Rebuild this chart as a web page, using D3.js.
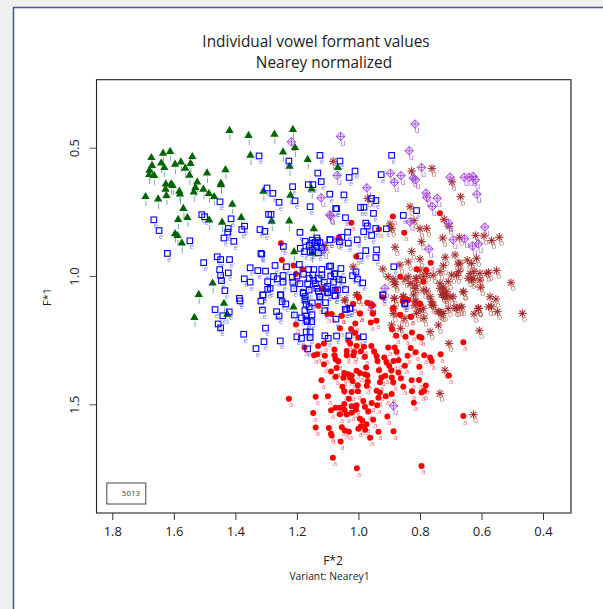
<!DOCTYPE html>
<html><head><meta charset="utf-8">
<script src="https://cdn.jsdelivr.net/npm/d3@7"></script>
<style>html,body{margin:0;padding:0;background:#f0f0f0;overflow:hidden}
svg{display:block}text{font-family:"Open Sans",sans-serif}</style></head><body>
<div id="chart"></div>
<script>
const titleLines=["Individual vowel formant values","Nearey normalized"];
const xLabel="F*2",yLabel="F*1",variantLabel="Variant: Nearey1",legendLabel="5013";
const xTicks=[1.8,1.6,1.4,1.2,1.0,0.8,0.6,0.4];
const yTicks=[0.5,1.0,1.5];
const iPoints=[[1.419,.433],[1.357,.453],[1.273,.448],[1.213,.429],[1.206,.5],[1.245,.517],[1.351,.53],[1.165,.546],[1.224,.573],[1.612,.515],[1.635,.522],[1.673,.539],[1.54,.535],[1.641,.56],[1.671,.57],[1.596,.565],[1.577,.556],[1.546,.562],[1.631,.578],[1.563,.58],[1.679,.588],[1.549,.608],[1.68,.605],[1.664,.609],[1.492,.599],[1.432,.586],[1.524,.634],[1.447,.639],[1.626,.642],[1.609,.642],[1.604,.648],[1.627,.662],[1.53,.655],[1.447,.645],[1.504,.662],[1.582,.67],[1.58,.681],[1.486,.679],[1.535,.673],[1.624,.687],[1.469,.691],[1.692,.691],[1.651,.7],[1.309,.67],[1.221,.686],[1.152,.661],[1.41,.721],[1.569,.737],[1.556,.772],[1.586,.78],[1.485,.782],[1.381,.772],[1.443,.791],[1.282,.787],[1.225,.786],[1.145,.816],[1.596,.836],[1.588,.843],[1.574,.872],[1.209,.906],[1.15,.911],[1.474,1.028],[1.519,1.072],[1.533,1.162],[1.437,1.107],[1.426,1.149],[1.067,.578],[1.211,1.121]];
const ePoints=[[1.323,.532],[1.226,.552],[1.125,.53],[1.132,.599],[1.121,.632],[1.163,.644],[1.148,.644],[1.214,.652],[1.093,.681],[1.297,.657],[1.278,.678],[1.258,.713],[1.206,.707],[1.157,.73],[1.45,.711],[1.074,.737],[1.509,.761],[1.5,.769],[1.292,.76],[1.284,.76],[1.414,.777],[1.665,.781],[1.648,.823],[1.37,.806],[1.423,.815],[1.425,.829],[1.379,.819],[1.32,.819],[1.304,.826],[1.19,.83],[1.437,.852],[1.405,.865],[1.548,.863],[1.135,.852],[1.133,.862],[1.173,.865],[1.142,.871],[1.151,.872],[1.093,.858],[1.244,.885],[1.189,.892],[1.621,.912],[1.317,.912],[1.314,.915],[1.175,.905],[1.157,.907],[1.459,.925],[1.448,.936],[1.419,.936],[1.503,.948],[1.192,.955],[1.271,.959],[1.234,.964],[1.451,.975],[1.352,.968],[1.327,.979],[1.302,.981],[1.162,.975],[1.145,.975],[1.119,.974],[1.095,.963],[1.448,.998],[1.423,.988],[1.245,.998],[1.276,1.002],[1.215,1.005],[1.178,.993],[1.148,.996],[1.119,.996],[1.078,.992],[1.371,1.011],[1.445,1.018],[1.352,1.024],[1.295,1.022],[1.264,1.011],[1.245,1.024],[1.213,1.024],[1.165,1.031],[1.146,1.018],[1.111,1.024],[1.081,1.024],[1.434,1.057],[1.287,1.048],[1.295,1.052],[1.254,1.073],[1.31,1.074],[1.18,1.067],[1.135,1.048],[1.099,1.065],[1.068,1.054],[1.387,1.087],[1.173,1.08],[1.126,1.08],
[1.06,.552],[.892,.53],[1.011,.591],[.926,.605],[1.03,.616],[1.047,.684],[.943,.706],[.957,.698],[1.071,.738],[.993,.733],[.982,.732],[.951,.756],[1.042,.773],[.811,.745],[.854,.764],[.976,.794],[.971,.805],[1.035,.829],[.983,.827],[.957,.842],[.944,.815],[.909,.816],[1.054,.849],[1.062,.866],[1.004,.859],[1.092,.859],[1.033,.872],[.941,.898],[.976,.901],[.995,.922],[.943,.928],[.885,.964],[1.09,.961],[1.057,.971],[1.076,.991],[1.008,.984],[1.019,.999],[1.003,1.012],[1.063,1.013],[.986,1.027],[1.051,1.016],[1.076,1.055],[1.042,1.053],[1.076,1.077],[.921,1.074],[.849,1.107],[1.028,1.126],[1.043,1.13],
[1.311,1.074],[1.317,1.098],[1.312,1.133],[1.252,1.074],[1.248,1.1],[1.236,1.109],[1.266,1.139],[1.258,1.156],[1.302,1.203],[1.307,1.256],[1.333,1.283],[1.254,1.253],[1.179,1.065],[1.174,1.094],[1.125,1.083],[1.107,1.104],[1.1,1.065],[1.076,1.077],[1.174,1.135],[1.109,1.135],[1.185,1.163],[1.171,1.156],[1.151,1.151],[1.168,1.172],[1.166,1.178],[1.152,1.178],[1.073,1.168],[1.038,1.13],[1.027,1.126],[1.17,1.218],[1.157,1.218],[1.2,1.237],[1.185,1.243],[1.157,1.24],[1.109,1.233],[1.098,1.243],[1.071,1.234],[1.031,1.233],[.984,1.237],[1.165,1.284],[.92,1.074],[.849,1.109],[1.208,1.152],
[1.385,1.097],[1.466,1.131],[1.441,1.155],[1.42,1.14],[1.456,1.187],[1.448,1.202],[1.373,1.227],
[1.15,.86],[1.14,.87],[1.135,.885],[1.16,.88],[1.125,.87],[1.12,.89],[1.15,.9],[1.13,.91],[1.2,1.0],[1.19,1.03],[1.16,1.01],[1.14,1.03],[1.13,1.01],[1.1,1.04],[1.09,1.0],[1.21,1.05],[1.16,1.055],[1.13,1.06],[1.105,1.05],[1.17,1.11],[1.16,1.12],[1.15,1.105]];
const aPoints=[[1.252,.872],[1.249,.938],[1.211,.959],[1.182,.974],[1.203,.992],[1.118,1.05],[1.073,1.054],[.735,.755],[1.023,.792],[.888,.768],[.933,.818],[.851,.831],[1.063,.849],[.765,.948],[1.007,.924],[.78,.977],[.811,.974],[.864,1.003],[.789,1.022],[.998,1.085],[.921,1.083],[.838,1.094],[.856,1.098],[.8,1.107],[.971,1.104],[1.018,1.109],[.955,1.113],[.887,1.126],[.995,1.146],[1.054,1.155],[.864,1.152],[.829,1.159],[.952,1.146],[1.087,1.148],
[1.13,1.116],[1.017,1.109],[.97,1.104],[.954,1.146],[.995,1.146],[1.055,1.155],[1.101,1.148],[.886,1.126],[.864,1.151],[.8,1.109],[.83,1.159],[.941,1.174],[.96,1.181],[1.01,1.185],[1.203,1.189],[1.024,1.207],[1.06,1.204],[1.011,1.221],[.891,1.208],[.826,1.22],[.877,1.233],[.847,1.237],[.802,1.237],[.795,1.241],[.659,1.258],[1.033,1.25],[1.0,1.24],[1.027,1.263],[1.006,1.273],[.982,1.276],[.958,1.273],[1.131,1.273],[1.112,1.263],[1.078,1.286],[1.038,1.292],[1.014,1.296],[.992,1.293],[.949,1.293],[.903,1.279],[.882,1.279],[.83,1.281],[1.175,1.279],[1.144,1.309],[1.134,1.305],[1.109,1.311],[1.078,1.309],[1.038,1.309],[1.017,1.309],[.979,1.315],[.941,1.312],[.916,1.318],[.876,1.295],[.84,1.311],[.814,1.297],[.786,1.309],[.733,1.305],[.767,1.318],[1.112,1.344],[1.074,1.324],[1.065,1.332],[.938,1.331],[.909,1.335],[.886,1.331],[.87,1.328],[.762,1.331],[.849,1.35],[.802,1.354],[.9,1.35],[.893,1.367],[1.071,1.359],[1.089,1.372],[.975,1.357],[.933,1.367],[1.006,1.369],[.995,1.378],[1.046,1.378],[1.033,1.383],[1.022,1.388],[.979,1.383],[.971,1.388],[.87,1.376],[1.074,1.393],[1.049,1.397],[1.027,1.396],[.913,1.389],[.925,1.396],[.892,1.396],[.887,1.414],[.862,1.398],[.803,1.405],[.827,1.406],[.706,1.388],[1.12,1.406],[.97,1.41],[.93,1.414],[1.052,1.432],[1.019,1.409],[1.002,1.426],[.973,1.428],[.854,1.432],[.781,1.427],[1.046,1.449],[1.022,1.452],[1.002,1.449],[.941,1.447],[.93,1.454],[.826,1.449],[.787,1.448],[.795,1.454],[.911,1.469],[.892,1.46],[.935,1.474],[.984,1.487],[1.031,1.478],[1.099,1.469],[1.139,1.471],[1.226,1.478],[.82,1.494],[.957,1.495],[.939,1.504],[1.046,1.499],[1.006,1.504],[1.022,1.508],[1.074,1.513],[.979,1.51],[1.06,1.513],[1.089,1.523],[1.046,1.521],[1.008,1.521],[.968,1.527],[1.022,1.533],[1.038,1.539],[1.06,1.539],[1.147,1.534],[.906,1.548],[.659,1.546],[.995,1.556],[.952,1.56],[.988,1.563],[.974,1.578],[1.054,1.589],[1.139,1.59],[1.096,1.592],[.992,1.586],[1.0,1.595],[1.044,1.602],[1.031,1.607],[.978,1.599],[.935,1.607],[.886,1.605],[1.089,1.615],[1.087,1.622],[.962,1.63],[1.058,1.645],[1.083,1.708],[1.005,1.749],[.795,1.74]];
const oPoints=[[1.082,.553],[.761,.581],[.827,.591],[.696,.633],[.668,.691],[.97,.698],[.832,.73],[.721,.779],[.819,.784],[.897,.797],[.892,.814],[.778,.814],[.8,.816],[.705,.807],[.726,.852],[.619,.842],[.592,.844],[.542,.849],[.567,.862],[.672,.849],[.795,.866],[.881,.888],[.827,.904],[.686,.918],[.718,.927],[.8,.934],[.838,.945],[.646,.938],[.67,.95],[.616,.931],[.865,.957],[.921,.973],[1.017,.964],[.724,.96],[.735,.983],[.551,.979],[.577,.986],[.624,.983],[.8,.977],[.675,.983],[.697,.996],[.849,1.012],[.903,1.003],[.887,1.012],[.643,1.009],[.605,1.016],[.813,1.009],[.789,1.003],[.504,1.026],[.881,1.033],[.816,1.035],[.778,1.059],[.735,1.048],[.713,1.061],[.659,1.061],[.603,1.044],[.729,1.072],[.692,1.081],[1.004,1.074],[.883,1.087],[.854,1.081],[.813,1.098],[.762,1.1],[.572,1.081],[.553,1.09],[1.044,1.094],[.686,1.124],[.67,1.122],[.61,1.126],[.567,1.12],[.548,1.139],[.467,1.146],[.74,1.139],[.724,1.146],[.624,1.148],[.789,1.126],[.821,1.074],[.724,1.042],[.718,1.081],[.637,.99],[.632,1.016],[.708,1.022],
[1.006,1.074],[1.044,1.094],[.883,1.087],[.854,1.081],[.816,1.1],[.762,1.113],[.724,1.074],[.887,1.146],[.849,1.165],[.787,1.165],[.892,1.191],[.863,1.204],[.767,1.217],[.74,1.191],[.73,1.146],[.681,1.126],[.61,1.126],[.607,1.213],[.706,1.263],[.719,1.367],[.735,1.458],[.626,1.54],[.811,1.146],[.577,1.12],
[.675,.954],[.632,.951],[.838,1.003],[.811,1.01],[.881,1.023],[.778,.99],[.735,1.029],[.724,1.055],[.719,1.075],[.702,1.081],[.757,.997],[.681,.997],[.659,1.062],[.605,.99],[.583,.99],[.627,1.01],[.816,1.049],[.789,1.055],[.767,1.081],[.854,1.081],[.756,1.114],[.8,1.133],[.816,1.114],[.886,1.127],[.61,1.127],[.664,1.12],[.735,1.14],[.832,1.029],[.708,1.127],[1.108,.881],[1.07,.859]];
const uPoints=[[.816,.408],[1.058,.456],[.835,.512],[.795,.577],[.896,.6],[.862,.609],[.883,.635],[.822,.618],[.814,.625],[1.069,.608],[.702,.615],[.656,.615],[.64,.615],[.627,.612],[.62,.625],[.973,.656],[.78,.677],[.778,.693],[.744,.697],[.615,.681],[.76,.729],[1.089,.766],[.832,.789],[.707,.794],[.589,.809],[.692,.859],[.655,.855],[.629,.883],[.61,.875],[.771,.895],[.914,1.048],[.957,1.113],[1.218,.477],[1.121,.695],[1.093,.762],[1.113,.898],[.956,1.115],[.886,1.506]];

const W=603,H=609;
const box={l:96.5,r:571,t:79.7,b:513};
const x=d3.scaleLinear().domain([1.8,0.4]).range([112.3,543]);
const y=d3.scaleLinear().domain([0.5,1.5]).range([147.7,404.3]);
const svg=d3.select("#chart").append("svg").attr("width",W).attr("height",H);
svg.append("rect").attr("width",W).attr("height",H).attr("fill","#f0f0f0");
svg.append("rect").attr("x",13.5).attr("y",7.5).attr("width",W+20).attr("height",H+20).attr("fill","#fff").attr("stroke","#4a5b9c").attr("stroke-width",1.6);
const tg=svg.append("g").attr("text-anchor","middle").attr("fill","#222");
tg.append("text").attr("x",316).attr("y",47).attr("font-size",15.4).text(titleLines[0]);
tg.append("text").attr("x",324).attr("y",68).attr("font-size",15.4).text(titleLines[1]);
svg.append("rect").attr("x",box.l).attr("y",box.t).attr("width",box.r-box.l).attr("height",box.b-box.t).attr("fill","none").attr("stroke","#222").attr("stroke-width",1.1);
svg.append("line").attr("x1",box.r).attr("x2",box.r).attr("y1",box.t).attr("y2",box.b).attr("stroke","#777").attr("stroke-width",1.3);

const plot=svg.append("g").style("filter","blur(0.35px)");
const tri=d3.symbol().type(d3.symbolTriangle).size(30)();
function labels(data,ch,col,dx,dy,fs,op){
  plot.append("g").selectAll("text").data(data).join("text")
    .attr("x",d=>x(d[0])+dx).attr("y",d=>y(d[1])+dy).attr("font-size",fs).attr("text-anchor","middle")
    .attr("fill",col).attr("fill-opacity",op).text(ch);
}
function marks(data,fn){
  const g=plot.append("g");
  g.selectAll("g").data(data).join("g").attr("transform",d=>`translate(${x(d[0])},${y(d[1])})`).each(fn);
}
// a
labels(aPoints,"a","#ff3040",2,8.6,8,.7);
// o
labels(oPoints,"o","#a05030",2.2,8.8,8.5,.8);
marks(oPoints,function(){
  const g=d3.select(this);
  [0,45,90,135].forEach(r=>g.append("line").attr("x1",-4.2).attr("x2",4.2).attr("transform",`rotate(${r})`).attr("stroke","#a52a2a").attr("stroke-width",1.15).attr("stroke-opacity",.9));
});
// u
labels(uPoints,"u","#a040e0",2.2,9.2,8.5,.8);
marks(uPoints,function(){
  const g=d3.select(this);
  g.append("path").attr("d","M0,-4.3L4.3,0L0,4.3L-4.3,0Z").attr("fill","#a040e0").attr("fill-opacity",.15).attr("stroke","#a040e0").attr("stroke-width",1);
  g.append("path").attr("d","M0,-4.3V4.3M-4.3,0H4.3").attr("stroke","#a040e0").attr("stroke-width",.8);
});
// a marks
marks(aPoints,function(){d3.select(this).append("circle").attr("r",3).attr("fill","#ff0000");});
// i
labels(iPoints,"i","#3d8f8f",0.5,9.5,9.5,.9);
marks(iPoints,function(){d3.select(this).append("path").attr("d",tri).attr("fill","#006400");});
// e
labels(ePoints,"e","#3040ff",2,8.4,8,.65);
marks(ePoints,function(){d3.select(this).append("rect").attr("x",-2.8).attr("y",-2.8).attr("width",5.6).attr("height",5.6).attr("fill","none").attr("stroke","#0000ff").attr("stroke-width",1.1);});

const axX=svg.append("g").attr("transform",`translate(0,${box.b})`).call(d3.axisBottom(x).tickValues(xTicks).tickSize(7).tickPadding(7).tickFormat(d3.format(".1f")));
axX.select(".domain").remove();
axX.selectAll("line").attr("stroke","#333");
axX.selectAll("text").attr("font-size",13).attr("fill","#222").style("font-family",'"Open Sans",sans-serif');
const axY=svg.append("g").attr("transform",`translate(${box.l},0)`).call(d3.axisLeft(y).tickValues(yTicks).tickSize(7).tickFormat(d3.format(".1f")));
axY.select(".domain").remove();
axY.selectAll("line").attr("stroke","#555");
axY.selectAll("text").attr("font-size",13).attr("fill","#222").attr("text-anchor","middle").attr("dy",0).attr("x",0).attr("y",0)
  .attr("dominant-baseline","middle").attr("transform","translate(-20.5,0) rotate(-90)").style("font-family",'"Open Sans",sans-serif');

svg.append("text").attr("x",333).attr("y",565).attr("text-anchor","middle").attr("font-size",12).attr("fill","#222").text(xLabel);
svg.append("text").attr("x",329.5).attr("y",580).attr("text-anchor","middle").attr("font-size",10.3).attr("fill","#222").text(variantLabel);
svg.append("text").attr("transform","translate(51,297) rotate(-90)").attr("text-anchor","middle").attr("font-size",11).attr("fill","#222").text(yLabel);
svg.append("rect").attr("x",106.8).attr("y",483).attr("width",39).attr("height",21).attr("fill","#fff").attr("stroke","#444").attr("stroke-width",1);
svg.append("text").attr("x",131).attr("y",496).attr("text-anchor","middle").attr("font-size",8).attr("fill","#444").text(legendLabel);
</script></body></html>
